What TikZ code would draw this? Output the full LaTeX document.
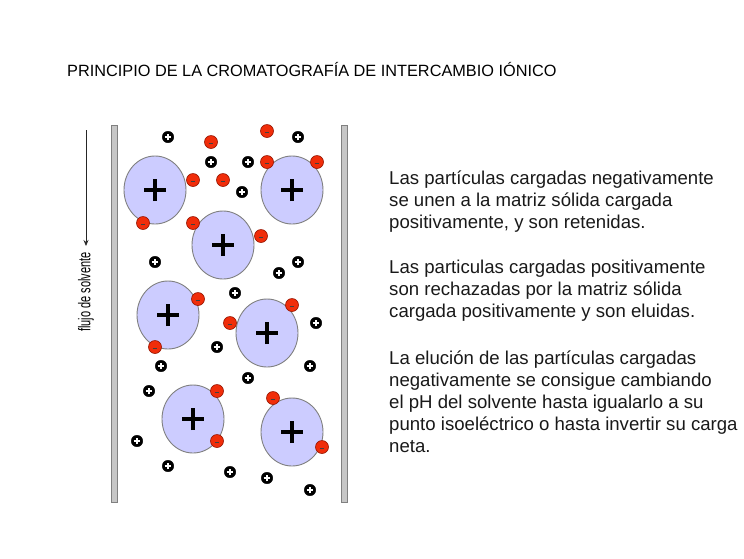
\documentclass[tikz,border=0pt]{standalone}
\usepackage{fontspec}
\setmainfont{Liberation Sans}
\usetikzlibrary{shapes.geometric, arrows.meta}
\definecolor{beadblue}{RGB}{204,204,255}
\definecolor{ionred}{RGB}{240,45,10}
\definecolor{ionedge}{RGB}{150,20,0}
\begin{document}
\begin{tikzpicture}[x=1pt, y=-1pt,
  grano/.style={ellipse, draw=gray, fill=beadblue, line width=0.9pt, inner sep=0pt,
    minimum width=62pt, minimum height=68pt,
    path picture={\draw[black, line width=3.6pt] (path picture bounding box.center) ++(-11pt,0) -- ++(22pt,0)
      (path picture bounding box.center) ++(0,-11pt) -- ++(0,22pt);}},
  ionneg/.style={circle, draw=ionedge, fill=ionred, line width=0.6pt, inner sep=0pt, minimum size=13pt,
    path picture={\draw[black!75, line width=1pt] (path picture bounding box.center) ++(-2.2pt,-1.6pt) -- ++(4.4pt,0);}},
  ionpos/.style={circle, draw=black, fill=black, inner sep=0pt, minimum size=11.5pt,
    path picture={\draw[white, line width=1.7pt] (path picture bounding box.center) ++(-3.4pt,0) -- ++(6.8pt,0)
      (path picture bounding box.center) ++(0,-3.4pt) -- ++(0,6.8pt);}},
  pared/.style={rectangle, draw=gray, fill=gray!45, line width=0.8pt, inner sep=0pt,
    minimum width=6pt, minimum height=377pt},
  texto/.style={anchor=base west, align=left, inner sep=0pt, text=black!90, font=\fontsize{18.6}{22}\selectfont}]
  \useasboundingbox (0,0) rectangle (744,558);
  % titulo
  \node[anchor=base west, inner sep=0pt, font=\fontsize{16.3}{20}\selectfont] (titulo) at (67,76)
    {PRINCIPIO DE LA CROMATOGRAFÍA DE INTERCAMBIO IÓNICO};
  % columna
  \node[pared] (paredizq) at (114,313.5) {};
  \node[pared] (paredder) at (344,313.5) {};
  % flujo
  \coordinate (flujoini) at (86,130);
  \coordinate (flujofin) at (86,246);
  \draw[-{Stealth[length=6pt, width=5pt]}, black!85, line width=0.8pt] (flujoini) -- (flujofin);
  \node[rotate=90, inner sep=0pt, font=\fontsize{17}{18}\selectfont] (flujo) at (86,292)
    {\scalebox{0.645}[1]{flujo de solvente}};
  % matriz
  \foreach \x/\y [count=\i] in {155/190, 292/190, 223/245, 168/315, 267/333, 193/419, 292/432}
    \node[grano] (grano\i) at (\x,\y) {};
  % particulas positivas
  \foreach \x/\y [count=\i] in {168/137, 298/137, 211/162, 248/162, 242/192, 155/262, 298/262,
      279/273, 235/293, 316/323, 217/347, 161/366, 310/366, 248/378, 149/391, 137/441,
      168/466, 230/472, 267/478, 310/490}
    \node[ionpos] (pos\i) at (\x,\y) {};
  % particulas negativas
  \foreach \x/\y [count=\i] in {267/131, 211/142, 267/162, 317/162, 193/180, 223/180, 143/223,
      193/223, 261/236, 198/299, 292/305, 230/323, 155/347, 217/391, 273/398, 217/441, 322/447}
    \node[ionneg] (neg\i) at (\x,\y) {};
  % texto (anclado en la ultima linea)
  \node[texto] (parrafo1) at (389,228) {Las partículas cargadas negativamente\\
    se unen a la matriz sólida cargada\\positivamente, y son retenidas.};
  \node[texto] (parrafo2) at (389,317) {Las particulas cargadas positivamente\\
    son rechazadas por la matriz sólida\\cargada positivamente y son eluidas.};
  \node[texto] (parrafo3) at (389,452) {La elución de las partículas cargadas\\
    negativamente se consigue cambiando\\el pH del solvente hasta igualarlo a su\\
    punto isoeléctrico o hasta invertir su carga\\neta.};
\end{tikzpicture}
\end{document}
